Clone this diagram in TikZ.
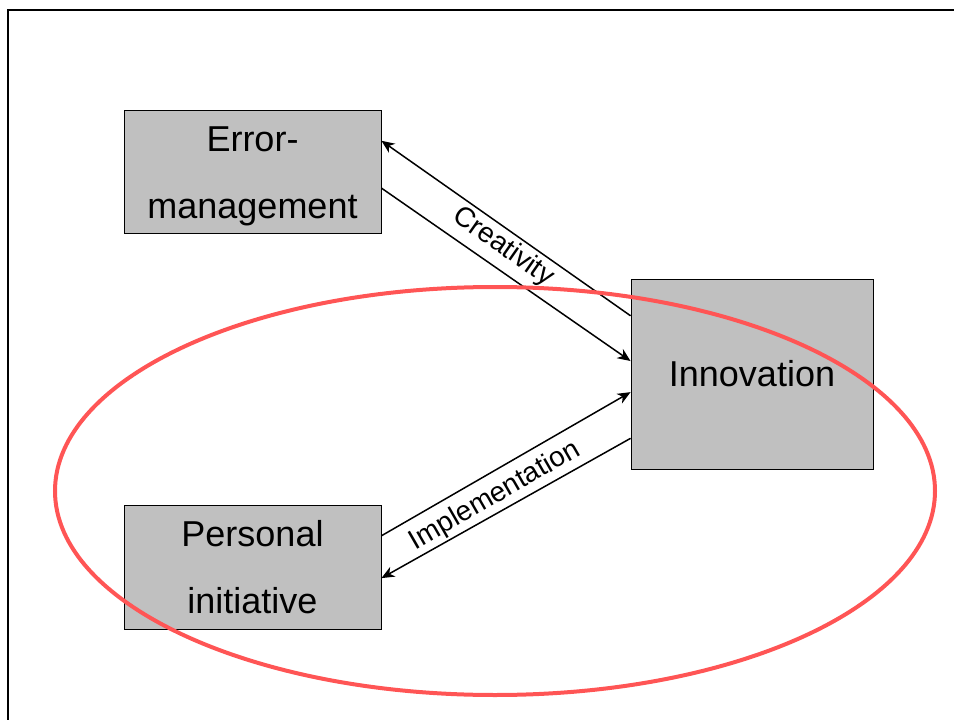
\documentclass[tikz,border=0pt]{standalone}
\usepackage{fontspec}
\setmainfont{Liberation Sans}
\usetikzlibrary{arrows.meta,calc}
\definecolor{boxgray}{RGB}{192,192,192}
\definecolor{ringred}{RGB}{255,85,85}
\tikzset{
  factor/.style={draw=black, line width=0.9pt, fill=boxgray, align=center,
    font=\fontsize{36}{67}\selectfont, inner sep=0pt},
  link/.style={line width=1.5pt, -{Stealth[length=13pt,width=11pt,inset=4pt]}},
  linklabel/.style={font=\fontsize{28}{30}\selectfont, inner sep=1pt},
}
\begin{document}
\begin{tikzpicture}[x=1pt,y=-1pt]
\useasboundingbox (0,0) rectangle (954,720);
% outer frame, running off the page on the right and bottom
\draw[line width=2.5pt] (8,10) rectangle (970,740);

% factors
\node[factor, minimum width=257pt, minimum height=123pt] (err) at (252.5,171.5) {\rule{0pt}{34pt}Error-\\management};
\node[factor, minimum width=257pt, minimum height=124pt] (pi) at (252.5,567) {Personal\\initiative};
\node[factor, minimum width=242pt, minimum height=190pt] (inno) at (752,374) {Innovation};

% links between error management and innovation
\draw[link] ($(inno.north west)!0.195!(inno.south west)$) -- ($(err.north east)!0.252!(err.south east)$);
\draw[link] ($(err.north east)!0.634!(err.south east)$) -- ($(inno.north west)!0.432!(inno.south west)$);
% links between personal initiative and innovation
\draw[link] ($(pi.north east)!0.25!(pi.south east)$) -- ($(inno.north west)!0.595!(inno.south west)$);
\draw[link] ($(inno.north west)!0.837!(inno.south west)$) -- ($(pi.north east)!0.589!(pi.south east)$);

\node[linklabel, rotate=-35] (crea) at (503,247) {Creativity};
\node[linklabel, rotate=30] (impl) at (495,496) {Implementation};

% highlight ring
\draw[ringred, line width=4pt] (495,491) ellipse [x radius=440, y radius=204];
\end{tikzpicture}
\end{document}
